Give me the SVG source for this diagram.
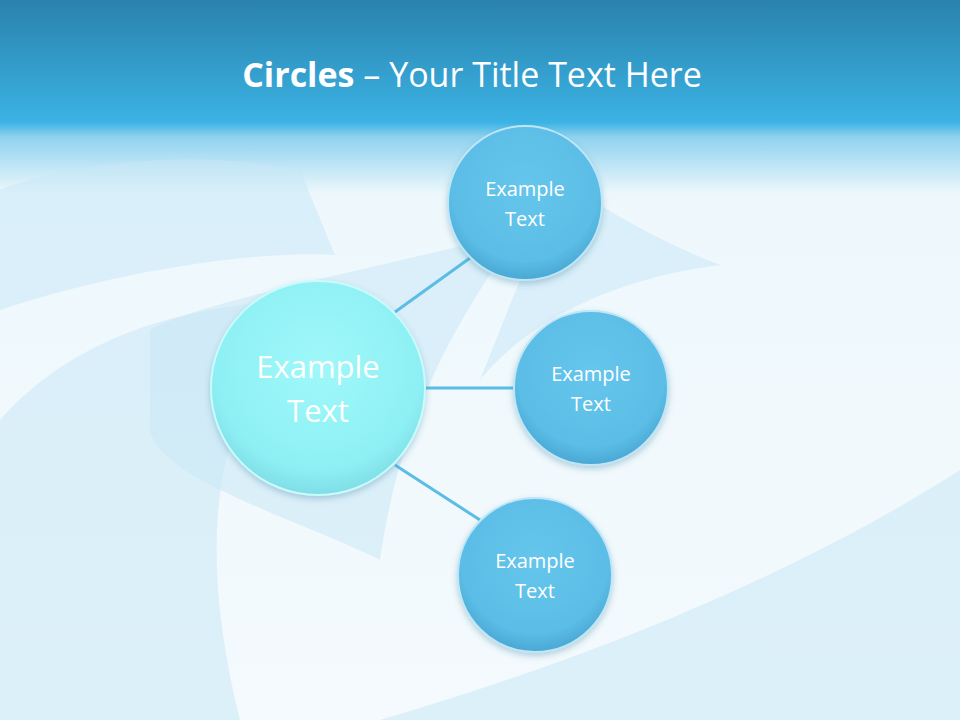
<svg xmlns="http://www.w3.org/2000/svg" width="960" height="720" viewBox="0 0 960 720">
<defs>
<linearGradient id="bg" x1="0" y1="0" x2="0" y2="1">
<stop offset="0" stop-color="#2a82ad"/>
<stop offset="0.17" stop-color="#3bb3e4"/>
<stop offset="0.19" stop-color="#8fd2ef"/>
<stop offset="0.27" stop-color="#eef8fc"/>
<stop offset="1" stop-color="#f4fafd"/>
</linearGradient>
<radialGradient id="big" cx="0.5" cy="0.4" r="0.6">
<stop offset="0" stop-color="#9ff8fa"/>
<stop offset="0.8" stop-color="#8ef0f4"/>
<stop offset="1" stop-color="#7fdde6"/>
</radialGradient>
<radialGradient id="sm" cx="0.5" cy="0.4" r="0.6">
<stop offset="0" stop-color="#66c6ec"/>
<stop offset="0.8" stop-color="#5bbde6"/>
<stop offset="1" stop-color="#4aa8d4"/>
</radialGradient>
<filter id="sh" x="-20%" y="-20%" width="140%" height="140%"><feDropShadow dx="0" dy="3" stdDeviation="3" flood-color="#3a7fa0" flood-opacity="0.35"/></filter>
<style>
.t{font-family:"Open Sans","Liberation Sans",sans-serif;fill:#fff;text-anchor:middle}
.c{stroke:#5bbde6;stroke-width:3;fill:none}
.s{fill:#c9e8f6;opacity:0.55}
</style>
</defs>
<rect width="960" height="720" fill="url(#bg)"/>
<path class="s" d="M0 310 C120 270 260 250 335 255 L300 170 C200 150 80 160 0 190Z"/>
<path class="s" d="M0 720 L0 420 C80 330 200 300 330 300 C220 380 190 520 240 720Z" opacity="0.4"/>
<path class="s" d="M150 330 C200 300 420 260 520 230 C450 330 400 420 380 560 C300 520 160 480 150 430Z" opacity="0.5"/>
<path class="s" d="M960 470 C820 560 620 650 380 720 L960 720Z" opacity="0.6"/>
<path class="s" d="M560 180 C620 220 680 250 720 265 C600 280 520 330 480 380Z" opacity="0.5"/>
<text x="472" y="87" class="t" font-size="34"><tspan font-weight="bold">Circles</tspan> – Your Title Text Here</text>
<g id="connectors">
<line class="c" x1="395" y1="312" x2="470" y2="258"/>
<line class="c" x1="425" y1="388" x2="514" y2="388"/>
<line class="c" x1="395" y1="465" x2="480" y2="520"/>
</g>
<g id="center"><circle cx="318" cy="388" r="107" fill="url(#big)" stroke="#c8fbfc" stroke-width="2" filter="url(#sh)"/>
<text x="318" y="378" class="t" font-size="31">Example</text><text x="318" y="422" class="t" font-size="31">Text</text></g>
<g id="n1"><circle cx="525" cy="203" r="77" fill="url(#sm)" stroke="#bfe6f6" stroke-width="2" filter="url(#sh)"/>
<text x="525" y="196" class="t" font-size="20">Example</text><text x="525" y="226" class="t" font-size="20">Text</text></g>
<g id="n2"><circle cx="591" cy="388" r="77" fill="url(#sm)" stroke="#bfe6f6" stroke-width="2" filter="url(#sh)"/>
<text x="591" y="381" class="t" font-size="20">Example</text><text x="591" y="411" class="t" font-size="20">Text</text></g>
<g id="n3"><circle cx="535" cy="575" r="77" fill="url(#sm)" stroke="#bfe6f6" stroke-width="2" filter="url(#sh)"/>
<text x="535" y="568" class="t" font-size="20">Example</text><text x="535" y="598" class="t" font-size="20">Text</text></g>
</svg>
